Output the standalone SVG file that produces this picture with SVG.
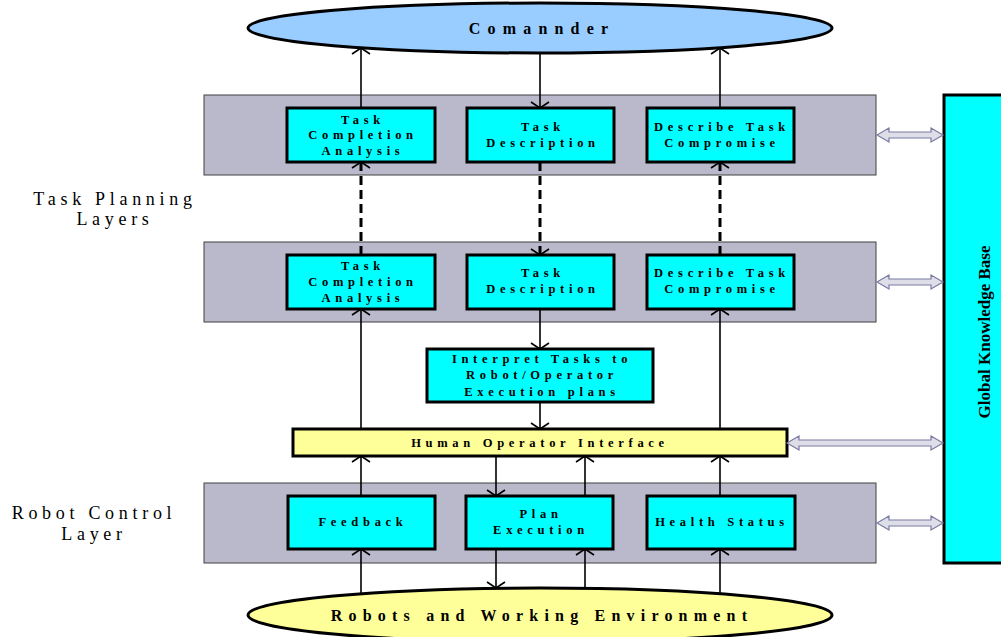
<svg xmlns="http://www.w3.org/2000/svg" width="1001" height="637" viewBox="0 0 1001 637">
<style>
.layer{fill:#b9b9cb;stroke:#404040;stroke-width:1}
.box{fill:#00ffff;stroke:#000;stroke-width:3}
.bt{font-family:"Liberation Serif","Times New Roman",serif;font-weight:bold;font-size:12.5px;letter-spacing:4.7px;text-anchor:middle;fill:#000}
.big{font-family:"Liberation Serif","Times New Roman",serif;font-weight:bold;font-size:16px;text-anchor:middle;fill:#000}
.side{font-family:"Liberation Serif","Times New Roman",serif;font-size:18px;letter-spacing:4.7px;text-anchor:middle;fill:#000}
.c{stroke:#000;stroke-width:1.6;fill:none;marker-end:url(#ah)}
.d{stroke:#000;stroke-width:3;stroke-dasharray:9,5;fill:none;marker-end:url(#ah)}
.dbl{fill:#dedee9;stroke:#7a7aa4;stroke-width:1.2}
</style>
<defs>
<marker id="ah" viewBox="-1 -1 8 20" refX="6" refY="9" markerWidth="8" markerHeight="20" markerUnits="userSpaceOnUse" orient="auto">
<path d="M0,0 L6,9 L0,18" fill="none" stroke="#000" stroke-width="1.6"/>
</marker>
</defs>
<rect width="1001" height="637" fill="#fff"/>

<g id="commander">
<ellipse cx="540" cy="28" rx="292" ry="25" fill="#99ccff" stroke="#000" stroke-width="3"/>
<text class="big" x="542" y="34" style="letter-spacing:7.2px">Comannder</text>
</g>

<g id="label-task-planning">
<text class="side" x="115" y="205">Task Planning</text>
<text class="side" x="115" y="225">Layers</text>
</g>
<g id="label-robot-control">
<text class="side" x="94" y="519">Robot Control</text>
<text class="side" x="94" y="540">Layer</text>
</g>

<g id="layer1">
<rect class="layer" x="204" y="95" width="672" height="80"/>
</g>
<g id="tca1">
<rect class="box" x="287" y="108" width="148" height="54"/>
<text class="bt" x="363" y="124">Task</text>
<text class="bt" x="363" y="139">Completion</text>
<text class="bt" x="363" y="155">Analysis</text>
</g>
<g id="td1">
<rect class="box" x="467" y="108" width="147" height="54"/>
<text class="bt" x="543" y="131">Task</text>
<text class="bt" x="543" y="147">Description</text>
</g>
<g id="dtc1">
<rect class="box" x="647" y="108" width="147" height="54"/>
<text class="bt" x="722" y="131">Describe Task</text>
<text class="bt" x="722" y="147">Compromise</text>
</g>

<g id="layer2">
<rect class="layer" x="204" y="242" width="672" height="80"/>
</g>
<g id="tca2">
<rect class="box" x="287" y="255" width="148" height="54"/>
<text class="bt" x="363" y="270">Task</text>
<text class="bt" x="363" y="286">Completion</text>
<text class="bt" x="363" y="302">Analysis</text>
</g>
<g id="td2">
<rect class="box" x="467" y="255" width="147" height="54"/>
<text class="bt" x="543" y="277">Task</text>
<text class="bt" x="543" y="293">Description</text>
</g>
<g id="dtc2">
<rect class="box" x="647" y="255" width="147" height="54"/>
<text class="bt" x="722" y="277">Describe Task</text>
<text class="bt" x="722" y="293">Compromise</text>
</g>

<g id="interpret">
<rect class="box" x="427" y="349" width="226" height="53"/>
<text class="bt" x="542" y="363">Interpret Tasks to</text>
<text class="bt" x="542" y="379">Robot/Operator</text>
<text class="bt" x="542" y="396">Execution plans</text>
</g>

<g id="hoi">
<rect x="293" y="429" width="494" height="27" fill="#ffff99" stroke="#000" stroke-width="3"/>
<text class="bt" x="540" y="447">Human Operator Interface</text>
</g>

<g id="layer3">
<rect class="layer" x="204" y="483" width="672" height="80"/>
</g>
<g id="feedback">
<rect class="box" x="288" y="496" width="147" height="53"/>
<text class="bt" x="363" y="526">Feedback</text>
</g>
<g id="plan">
<rect class="box" x="466" y="496" width="147" height="53"/>
<text class="bt" x="541" y="518">Plan</text>
<text class="bt" x="541" y="534">Execution</text>
</g>
<g id="health">
<rect class="box" x="647" y="496" width="148" height="53"/>
<text class="bt" x="722" y="526">Health Status</text>
</g>

<g id="robots">
<ellipse cx="540" cy="615" rx="292" ry="27" fill="#ffff99" stroke="#000" stroke-width="3"/>
<text class="big" x="542" y="621" style="letter-spacing:6.2px">Robots and Working Environment</text>
</g>

<g id="gkb">
<rect x="944" y="95" width="70" height="468" fill="#00ffff" stroke="#000" stroke-width="3"/>
<text x="0" y="0" transform="translate(990,332) rotate(-90)" font-family="'Liberation Serif','Times New Roman',serif" font-weight="bold" font-size="17" text-anchor="middle">Global Knowledge Base</text>
</g>

<g id="connectors">
<line class="c" x1="361" y1="108" x2="361" y2="48"/>
<line class="c" x1="540" y1="53" x2="540" y2="108"/>
<line class="c" x1="720" y1="108" x2="720" y2="48"/>
<line class="d" x1="361" y1="255" x2="361" y2="162"/>
<line class="d" x1="540" y1="162" x2="540" y2="255"/>
<line class="d" x1="720" y1="255" x2="720" y2="162"/>
<line class="c" x1="361" y1="429" x2="361" y2="309"/>
<line class="c" x1="540" y1="309" x2="540" y2="349"/>
<line class="c" x1="540" y1="402" x2="540" y2="429"/>
<line class="c" x1="720" y1="429" x2="720" y2="309"/>
<line class="c" x1="361" y1="496" x2="361" y2="456"/>
<line class="c" x1="496" y1="456" x2="496" y2="496"/>
<line class="c" x1="585" y1="496" x2="585" y2="456"/>
<line class="c" x1="720" y1="496" x2="720" y2="456"/>
<line class="c" x1="361" y1="594" x2="361" y2="549"/>
<line class="c" x1="496" y1="549" x2="496" y2="588"/>
<line class="c" x1="585" y1="589" x2="585" y2="549"/>
<line class="c" x1="720" y1="594" x2="720" y2="549"/>
<path class="dbl" d="M877,135 L889,128 L889,132 L931,132 L931,128 L943,135 L931,142 L931,138 L889,138 L889,142 Z"/>
<path class="dbl" d="M877,282 L889,275 L889,279 L931,279 L931,275 L943,282 L931,289 L931,285 L889,285 L889,289 Z"/>
<path class="dbl" d="M787,443 L799,436 L799,440 L931,440 L931,436 L943,443 L931,450 L931,446 L799,446 L799,450 Z"/>
<path class="dbl" d="M877,523 L889,516 L889,520 L931,520 L931,516 L943,523 L931,530 L931,526 L889,526 L889,530 Z"/>
</g>
</svg>
